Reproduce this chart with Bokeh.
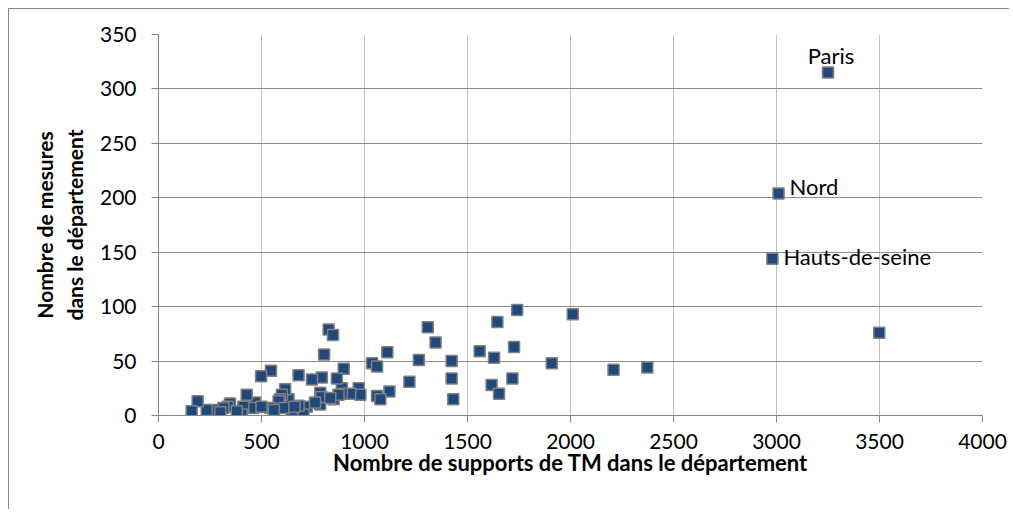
from bokeh.plotting import figure
from bokeh.models import Range1d, FixedTicker, Label, ColumnDataSource
from bokeh.embed import file_html
from bokeh.resources import INLINE

# --- data -------------------------------------------------------------
supports = [
    3250, 3010, 2980,
    3499, 2373, 2209, 2011, 1909, 1741, 1726, 1718, 1645, 1629, 1617, 1653,
    1559, 1423, 1423, 1431, 1345, 1307, 1264, 1218, 1111, 1121, 1037, 1061,
    1061, 1077, 972, 980, 931, 890, 890, 899, 866, 850, 874, 826, 847, 804,
    793, 745, 680, 546, 498, 785, 785, 790, 834, 720, 704, 680, 647, 631,
    615, 599, 590, 583, 607, 542, 469, 461, 428, 412, 404, 347, 336, 315,
    266, 234, 190, 161, 500, 560, 380, 300, 760, 660,
]
mesures = [
    315, 204, 144,
    76, 44, 42, 93, 48, 97, 63, 34, 86, 53, 28, 20,
    59, 50, 34, 15, 67, 81, 51, 31, 58, 22, 48, 45,
    18, 15, 25, 19, 20, 25, 20, 43, 34, 15, 19, 79, 74, 56,
    35, 33, 37, 41, 36, 21, 10, 17, 16, 8, 1, 9, 5, 15,
    24, 19, 15, 13, 7, 7, 12, 7, 19, 8, 1, 11, 8, 7,
    5, 5, 13, 4, 8, 5, 4, 3, 12, 8,
]
names = ["Paris", "Nord", "Hauts-de-seine"]

x_ticks = [0, 500, 1000, 1500, 2000, 2500, 3000, 3500, 4000]
y_ticks = [0, 50, 100, 150, 200, 250, 300, 350]

FONT = "Lato"

p = figure(
    width=1000, height=500,
    frame_width=824, frame_height=381,
    min_border_left=149, min_border_right=27, min_border_top=25, min_border_bottom=94,
    x_range=Range1d(0, 4000), y_range=Range1d(0, 350),
    output_backend="svg", toolbar_location=None,
)
p.styles = {"margin-left": "8px", "margin-top": "8px",
            "border-left": "1px solid #868686", "border-top": "1px solid #868686"}
p.outline_line_color = None
p.background_fill_color = "white"
p.border_fill_color = "white"

p.xaxis.ticker = FixedTicker(ticks=x_ticks)
p.yaxis.ticker = FixedTicker(ticks=y_ticks)
p.xaxis.minor_tick_line_color = None
p.yaxis.minor_tick_line_color = None
for ax in (p.xaxis, p.yaxis):
    ax.axis_line_color = "#868686"
    ax.major_tick_line_color = "#868686"
    ax.major_tick_in = 0
    ax.major_tick_out = 7
    ax.major_label_text_font = FONT
    ax.major_label_text_font_size = "21px"
    ax.major_label_text_color = "black"
    ax.axis_label_text_font = FONT
    ax.axis_label_text_font_style = "bold"
    ax.axis_label_text_color = "black"

p.xaxis.axis_label = "Nombre de supports de TM dans le département"
p.yaxis.axis_label = "Nombre de mesures\ndans le département"
p.xaxis.axis_label_text_font_size = "22px"
p.yaxis.axis_label_text_font_size = "21px"
p.xaxis.major_label_standoff = 11
p.yaxis.major_label_standoff = 15
p.xaxis.axis_label_standoff = -3
p.yaxis.axis_label_standoff = 10

p.xgrid.ticker = FixedTicker(ticks=x_ticks)
p.ygrid.ticker = FixedTicker(ticks=y_ticks)
p.xgrid.grid_line_color = "#c0c0c0"
p.ygrid.grid_line_color = "#8c8c8c"

src = ColumnDataSource(dict(x=supports, y=mesures))
p.scatter("x", "y", source=src, marker="square", size=11,
          fill_color="#1F497D", line_color="#808080", line_width=1.5)

offsets = {"Paris": (3, 17, "center"), "Nord": (11, 7, "left"), "Hauts-de-seine": (11, 2, "left")}
for i, name in enumerate(names):
    dx, dy, al = offsets[name]
    p.add_layout(Label(x=supports[i], y=mesures[i], text=name, x_offset=dx, y_offset=dy,
                       text_align=al, text_baseline="alphabetic",
                       text_font=FONT, text_font_size="22px", text_color="black"))

open("out.html", "w").write(file_html(p, INLINE))
